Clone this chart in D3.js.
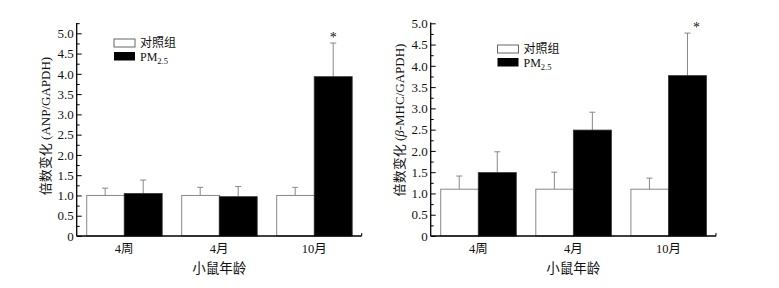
<!DOCTYPE html>
<html>
<head>
<meta charset="utf-8">
<script src="https://cdn.jsdelivr.net/npm/d3@7"></script>
<style>
  body { margin: 0; background: #fff; }
  svg text { font-family: "Liberation Serif", "Noto Sans CJK SC", serif; fill: #111; }
</style>
</head>
<body>
<svg id="chart" width="779" height="288"></svg>
<script>
// categories and values
var groups = ["4周", "4月", "10月"];
var anpControl = [1.0, 1.0, 1.0];
var anpControlErr = [0.18, 0.2, 0.2];
var anpPM = [1.05, 0.97, 3.93];
var anpPMErr = [0.33, 0.25, 0.83];
var mhcControl = [1.1, 1.1, 1.1];
var mhcControlErr = [0.31, 0.4, 0.26];
var mhcPM = [1.49, 2.49, 3.77];
var mhcPMErr = [0.49, 0.42, 1.0];
var majorTicks = [0, 0.5, 1, 1.5, 2, 2.5, 3, 3.5, 4, 4.5, 5];
var minorTicks = [0.25, 0.75, 1.25, 1.75, 2.25, 2.75, 3.25, 3.75, 4.25, 4.75, 5.25];
var legendLabels = ["对照组", "PM"];
var starFlags = [false, false, true];

var svg = d3.select("#chart");

function drawPanel(p) {
    var g = svg.append("g");
    var x = d3.scaleBand().domain(groups).range([p.x0, p.x1]).paddingInner(0.2).paddingOuter(0.1);
    var xs = d3.scaleBand().domain(["c", "p"]).range([0, x.bandwidth()]);
    var y = d3.scaleLinear().domain([0, 5]).range([p.y0, p.y5]);

    var rows = groups.map(function(d, i) {
        return {g: d, c: p.control[i], ce: p.controlErr[i], p: p.pm[i], pe: p.pmErr[i], star: starFlags[i]};
    });

    // error bars first, the bars hide their lower half
    function errBar(sel, key, errKey) {
        var cx = function(d) { return x(d.g) + xs(key) + xs.bandwidth() / 2; };
        sel.append("line")
            .attr("x1", cx).attr("x2", cx)
            .attr("y1", function(d) { return y(d[key]); })
            .attr("y2", function(d) { return y(d[key] + d[errKey]); })
            .attr("stroke", "#888").attr("stroke-width", 1);
        sel.append("line")
            .attr("x1", function(d) { return cx(d) - 3; })
            .attr("x2", function(d) { return cx(d) + 3; })
            .attr("y1", function(d) { return y(d[key] + d[errKey]); })
            .attr("y2", function(d) { return y(d[key] + d[errKey]); })
            .attr("stroke", "#888").attr("stroke-width", 1);
    }

    var grp = g.selectAll(".grp").data(rows).enter().append("g");
    errBar(grp, "c", "ce");
    errBar(grp, "p", "pe");

    grp.append("rect")
        .attr("x", function(d) { return x(d.g) + xs("c") + 0.5; })
        .attr("y", function(d) { return y(d.c); })
        .attr("width", xs.bandwidth())
        .attr("height", function(d) { return y(0) - y(d.c); })
        .attr("fill", "#fff").attr("stroke", "#888").attr("stroke-width", 1);
    grp.append("rect")
        .attr("x", function(d) { return x(d.g) + xs("p"); })
        .attr("y", function(d) { return y(d.p); })
        .attr("width", xs.bandwidth())
        .attr("height", function(d) { return y(0) - y(d.p); })
        .attr("fill", "#000").attr("stroke", "#333").attr("stroke-width", 0.8);

    grp.filter(function(d) { return d.star; }).append("text")
        .attr("x", function(d) { return x(d.g) + xs("p") + xs.bandwidth() / 2 + p.starDx; })
        .attr("y", function(d) { return y(d.p + d.pe) - 1; })
        .attr("text-anchor", "middle")
        .attr("font-size", 14)
        .text("*");

    // y axis, ticks point inwards
    var yAxis = d3.axisLeft(y).tickValues(majorTicks).tickSize(-5).tickPadding(3)
        .tickFormat(function(d) { return d === 0 ? "0" : d.toFixed(1); });
    var ya = g.append("g").attr("transform", "translate(" + p.x0 + ",0)").call(yAxis);
    ya.select(".domain").remove();
    ya.selectAll("text").attr("font-size", 13).attr("fill", "#111");
    var ym = g.append("g").attr("transform", "translate(" + p.x0 + ",0)")
        .call(d3.axisLeft(y).tickValues(minorTicks.filter(function(v) { return y(v) >= p.axisTop; }))
            .tickSize(-3).tickFormat(""));
    ym.select(".domain").remove();
    g.append("line").attr("x1", p.x0).attr("x2", p.x0).attr("y1", p.y0).attr("y2", p.axisTop)
        .attr("stroke", "#000").attr("stroke-width", 1.3);

    // x axis
    var xAxis = d3.axisBottom(x).tickSize(0).tickPadding(8);
    var xa = g.append("g").attr("transform", "translate(0," + p.y0 + ")").call(xAxis);
    xa.select(".domain").remove();
    xa.selectAll("text").attr("font-size", 12.5).attr("fill", "#111");
    g.append("line").attr("x1", p.x0).attr("x2", p.x1).attr("y1", p.y0).attr("y2", p.y0)
        .attr("stroke", "#000").attr("stroke-width", 1.3);
    g.append("line").attr("x1", p.x1).attr("x2", p.x1).attr("y1", p.y0).attr("y2", p.y0 - 3)
        .attr("stroke", "#000").attr("stroke-width", 1);

    g.append("text")
        .attr("x", (p.x0 + p.x1) / 2).attr("y", 273)
        .attr("text-anchor", "middle").attr("font-size", 13.5)
        .text("小鼠年龄");

    var yt = g.append("text")
        .attr("transform", "translate(" + p.titleX + "," + p.titleY + ") rotate(-90)")
        .attr("text-anchor", "middle").attr("font-size", 13);
    yt.append("tspan").text("倍数变化 (");
    if (p.beta) {
        yt.append("tspan").attr("font-style", "italic").text("β");
        yt.append("tspan").text("-MHC/GAPDH)");
    } else {
        yt.append("tspan").text("ANP/GAPDH)");
    }

    // legend
    var lg = g.append("g");
    lg.append("rect").attr("x", p.legX).attr("y", p.legY).attr("width", 21).attr("height", 8)
        .attr("fill", "#fff").attr("stroke", "#666").attr("stroke-width", 1);
    lg.append("rect").attr("x", p.legX).attr("y", p.legY + 13).attr("width", 21).attr("height", 8.5)
        .attr("fill", "#000");
    lg.append("text").attr("x", p.legX + 26).attr("y", p.legY + 8).attr("font-size", 12)
        .text(legendLabels[0]);
    var pmt = lg.append("text").attr("x", p.legX + 26).attr("y", p.legY + 22).attr("font-size", 12);
    pmt.append("tspan").text(legendLabels[1]);
    pmt.append("tspan").attr("font-size", 8.5).attr("dy", 3).text("2.5");
}

drawPanel({x0: 76.7, x1: 361.7, y0: 236, y5: 33.3, axisTop: 23,
    control: anpControl, controlErr: anpControlErr, pm: anpPM, pmErr: anpPMErr,
    titleX: 50, titleY: 126, beta: false, legX: 114, legY: 39, starDx: 0});
drawPanel({x0: 430.7, x1: 716, y0: 236, y5: 23.3, axisTop: 22.5,
    control: mhcControl, controlErr: mhcControlErr, pm: mhcPM, pmErr: mhcPMErr,
    titleX: 404, titleY: 120, beta: true, legX: 497.5, legY: 45, starDx: 9});
</script>
</body>
</html>
